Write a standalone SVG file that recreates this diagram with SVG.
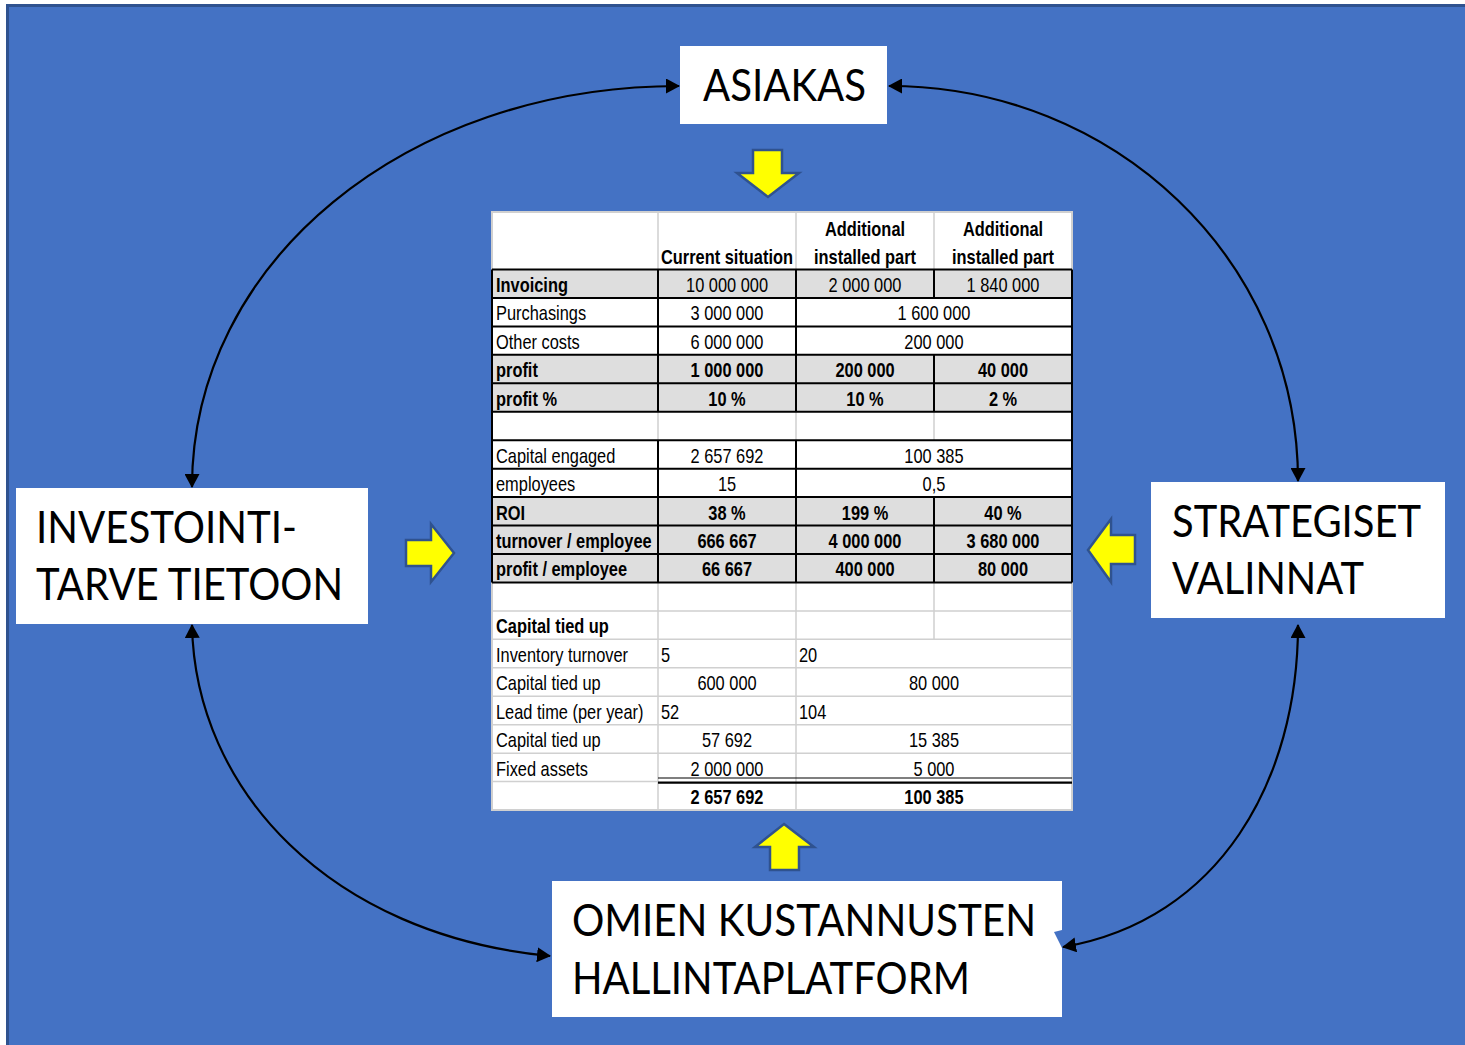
<svg xmlns="http://www.w3.org/2000/svg" width="1465" height="1045" viewBox="0 0 1465 1045">
<style>
.node rect{fill:#FFFFFF}
.nt{font-family:Lato,"Liberation Sans",sans-serif;font-size:44px;fill:#000000}
.conn path{fill:none;stroke:#000000;stroke-width:2.2}
.ya{fill:#FFFF00;stroke:#2F528F;stroke-width:2.5;stroke-linejoin:miter}
.gl{stroke:#D0D0D0;stroke-width:1.5;fill:none}
.bl{stroke:#000000;stroke-width:2;fill:none}
.gf{fill:#DEDEDE}
.tt{font-family:"Liberation Sans",Arial,sans-serif;font-size:20px;fill:#000000}
.b{font-weight:bold}
.m{text-anchor:middle}
</style>
<defs>
<marker id="ah" viewBox="0 0 14 15" refX="13" refY="7.5" markerWidth="14" markerHeight="15" markerUnits="userSpaceOnUse" orient="auto-start-reverse">
<path d="M0,0 L14,7.5 L0,15 Z" fill="#000000"/>
</marker>
</defs>
<rect x="0" y="0" width="1465" height="1045" fill="#FFFFFF"/>
<rect x="7.5" y="5.5" width="1470" height="1050" fill="#4472C4" stroke="#2F528F" stroke-width="3"/>

<g id="connectors" class="conn">
<path d="M192,487 C192,262 406,86 679,86" marker-start="url(#ah)" marker-end="url(#ah)"/>
<path d="M889,86 C1114,86 1298,259 1298,481" marker-start="url(#ah)" marker-end="url(#ah)"/>
<path d="M192,625 C195,790 330,935 550,956" marker-start="url(#ah)" marker-end="url(#ah)"/>
<path d="M1298,625 C1298,780 1220,920 1063,947" marker-start="url(#ah)" marker-end="url(#ah)"/>
</g>

<g id="node-asiakas" class="node">
<rect x="680" y="46" width="207" height="78"/>
<text class="nt" x="703" y="101" textLength="163" lengthAdjust="spacingAndGlyphs">ASIAKAS</text>
</g>
<g id="node-investointi" class="node">
<rect x="16" y="488" width="352" height="136"/>
<text class="nt" x="36" y="543" textLength="261" lengthAdjust="spacingAndGlyphs">INVESTOINTI-</text>
<text class="nt" x="36" y="600" textLength="307" lengthAdjust="spacingAndGlyphs">TARVE TIETOON</text>
</g>
<g id="node-strategiset" class="node">
<rect x="1151" y="482" width="294" height="136"/>
<text class="nt" x="1172" y="537" textLength="249" lengthAdjust="spacingAndGlyphs">STRATEGISET</text>
<text class="nt" x="1172" y="594" textLength="192" lengthAdjust="spacingAndGlyphs">VALINNAT</text>
</g>
<g id="node-omien" class="node">
<rect x="552" y="881" width="510" height="136"/>
<polygon points="1054,932 1062,930 1062,948" fill="#4472C4"/>
<text class="nt" x="572" y="936" textLength="464" lengthAdjust="spacingAndGlyphs">OMIEN KUSTANNUSTEN</text>
<text class="nt" x="572" y="994" textLength="398" lengthAdjust="spacingAndGlyphs">HALLINTAPLATFORM</text>
</g>

<g id="block-arrows">
<polygon class="ya" points="753,150 782,150 782,173 799,173 768,197 737,173 753,173"/>
<polygon class="ya" points="406,540 431,540 431,524 454,553 431,582 431,566 406,566"/>
<polygon class="ya" points="1135,535 1111,535 1111,519 1088,550 1111,582 1111,564 1135,564"/>
<polygon class="ya" points="784,824 814,847 799,847 799,870 770,870 770,847 755,847"/>
</g>

<g id="node-table">
<rect x="492" y="212" width="580" height="598" fill="#FFFFFF" stroke="#D0D0D0" stroke-width="2"/>
<rect class="gf" x="492" y="269.5" width="580" height="28.45"/>
<rect class="gf" x="492" y="354.85" width="580" height="56.9"/>
<rect class="gf" x="492" y="497.1" width="580" height="85.35"/>
<g class="gl">
<path d="M658,212 V269.5 M796,212 V269.5 M934,212 V269.5"/>
<path d="M658,411.75 V440.2 M796,411.75 V440.2 M934,411.75 V440.2"/>
<path d="M658,582.45 V810 M796,582.45 V810 M934,582.45 V639.35"/>
<path d="M492,610.9 H1072 M492,639.35 H1072 M492,667.8 H1072 M492,696.25 H1072 M492,724.7 H1072 M492,753.15 H1072 M492,781.6 H658"/>
</g>
<g class="bl">
<path d="M492,269.5 H1072 M492,297.95 H1072 M492,326.4 H1072 M492,354.85 H1072 M492,383.3 H1072 M492,411.75 H1072 M492,440.2 H1072 M492,468.65 H1072 M492,497.1 H1072 M492,525.55 H1072 M492,554 H1072 M492,582.45 H1072"/>
<path d="M492,269.5 V582.45 M1072,269.5 V582.45"/>
<path d="M658,269.5 V411.75 M796,269.5 V411.75 M658,440.2 V582.45 M796,440.2 V582.45"/>
<path d="M934,269.5 V297.95 M934,354.85 V411.75 M934,497.1 V582.45"/>
<path d="M658,778 H1072" stroke-width="1.2"/>
<path d="M658,782.6 H1072" stroke-width="2.2"/>
</g>
<g transform="scale(0.82 1)" class="tt">
<text class="b m" x="886.6" y="264">Current situation</text>
<text class="b m" x="1054.9" y="236">Additional</text>
<text class="b m" x="1054.9" y="264">installed part</text>
<text class="b m" x="1223.2" y="236">Additional</text>
<text class="b m" x="1223.2" y="264">installed part</text>

<text class="b" x="604.9" y="292">Invoicing</text>
<text class="m" x="886.6" y="292">10 000 000</text>
<text class="m" x="1054.9" y="292">2 000 000</text>
<text class="m" x="1223.2" y="292">1 840 000</text>

<text x="604.9" y="320.5">Purchasings</text>
<text class="m" x="886.6" y="320.5">3 000 000</text>
<text class="m" x="1139" y="320.5">1 600 000</text>

<text x="604.9" y="348.9">Other costs</text>
<text class="m" x="886.6" y="348.9">6 000 000</text>
<text class="m" x="1139" y="348.9">200 000</text>

<text class="b" x="604.9" y="377.4">profit</text>
<text class="b m" x="886.6" y="377.4">1 000 000</text>
<text class="b m" x="1054.9" y="377.4">200 000</text>
<text class="b m" x="1223.2" y="377.4">40 000</text>

<text class="b" x="604.9" y="405.8">profit %</text>
<text class="b m" x="886.6" y="405.8">10 %</text>
<text class="b m" x="1054.9" y="405.8">10 %</text>
<text class="b m" x="1223.2" y="405.8">2 %</text>

<text x="604.9" y="462.7">Capital engaged</text>
<text class="m" x="886.6" y="462.7">2 657 692</text>
<text class="m" x="1139" y="462.7">100 385</text>

<text x="604.9" y="491.2">employees</text>
<text class="m" x="886.6" y="491.2">15</text>
<text class="m" x="1139" y="491.2">0,5</text>

<text class="b" x="604.9" y="519.6">ROI</text>
<text class="b m" x="886.6" y="519.6">38 %</text>
<text class="b m" x="1054.9" y="519.6">199 %</text>
<text class="b m" x="1223.2" y="519.6">40 %</text>

<text class="b" x="604.9" y="548.1">turnover / employee</text>
<text class="b m" x="886.6" y="548.1">666 667</text>
<text class="b m" x="1054.9" y="548.1">4 000 000</text>
<text class="b m" x="1223.2" y="548.1">3 680 000</text>

<text class="b" x="604.9" y="576.5">profit / employee</text>
<text class="b m" x="886.6" y="576.5">66 667</text>
<text class="b m" x="1054.9" y="576.5">400 000</text>
<text class="b m" x="1223.2" y="576.5">80 000</text>

<text class="b" x="604.9" y="633.4">Capital tied up</text>

<text x="604.9" y="661.9">Inventory turnover</text>
<text x="806.1" y="661.9">5</text>
<text x="974.4" y="661.9">20</text>

<text x="604.9" y="690.3">Capital tied up</text>
<text class="m" x="886.6" y="690.3">600 000</text>
<text class="m" x="1139" y="690.3">80 000</text>

<text x="604.9" y="718.8">Lead time (per year)</text>
<text x="806.1" y="718.8">52</text>
<text x="974.4" y="718.8">104</text>

<text x="604.9" y="747.2">Capital tied up</text>
<text class="m" x="886.6" y="747.2">57 692</text>
<text class="m" x="1139" y="747.2">15 385</text>

<text x="604.9" y="775.7">Fixed assets</text>
<text class="m" x="886.6" y="775.7">2 000 000</text>
<text class="m" x="1139" y="775.7">5 000</text>

<text class="b m" x="886.6" y="804.1">2 657 692</text>
<text class="b m" x="1139" y="804.1">100 385</text>
</g>
</g>
</svg>
